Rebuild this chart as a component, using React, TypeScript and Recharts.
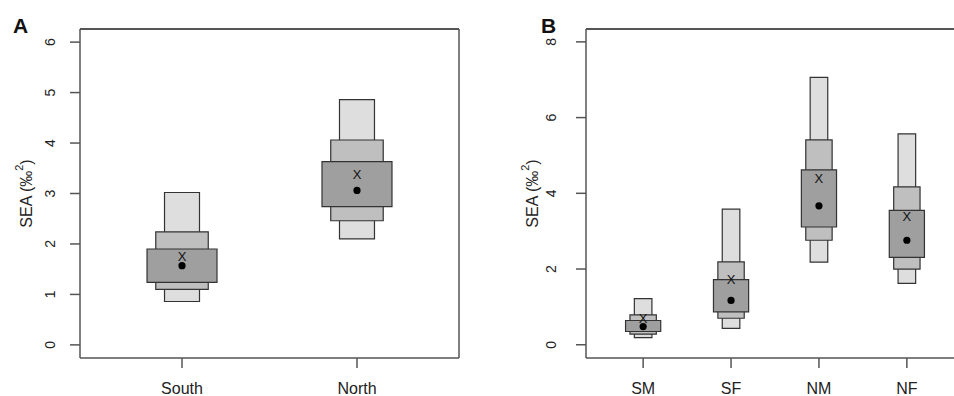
import React from 'react';
import { ComposedChart, XAxis, YAxis, ReferenceArea, Scatter } from 'recharts';

// Panel A data
const groupsA = ['South', 'North'];
const lo95A = [0.86, 2.1];
const hi95A = [3.02, 4.86];
const lo75A = [1.1, 2.46];
const hi75A = [2.24, 4.06];
const lo50A = [1.24, 2.74];
const hi50A = [1.9, 3.63];
const modeA = [1.57, 3.06];
const seaCA = [1.75, 3.38];
const yTicksA = [0, 1, 2, 3, 4, 5, 6];

// Panel B data
const groupsB = ['SM', 'SF', 'NM', 'NF'];
const lo95B = [0.19, 0.43, 2.18, 1.62];
const hi95B = [1.22, 3.58, 7.06, 5.57];
const lo75B = [0.28, 0.7, 2.76, 2.0];
const hi75B = [0.79, 2.19, 5.41, 4.17];
const lo50B = [0.35, 0.87, 3.11, 2.31];
const hi50B = [0.64, 1.72, 4.62, 3.55];
const modeB = [0.48, 1.17, 3.67, 2.76];
const seaCB = [0.7, 1.72, 4.39, 3.39];
const yTicksB = [0, 2, 4, 6, 8];

const FONT = '"Liberation Sans", Arial, sans-serif';
const AXIS = '#555';
const TXT = '#222';
const C95 = '#dedede';
const C75 = '#bfbfbf';
const C50 = '#9f9f9f';
const EDGE = '#333';

const levels = [
  { key: '95', hw: 0.1, fill: C95 },
  { key: '75', hw: 0.15, fill: C75 },
  { key: '50', hw: 0.2, fill: C50 },
];

function makeYTick(cx: number) {
  return (props: any) => {
    const { y, payload } = props;
    return (
      <text
        x={cx}
        y={y}
        transform={`rotate(-90 ${cx} ${y})`}
        textAnchor="middle"
        dominantBaseline="central"
        fontFamily={FONT}
        fontSize={14}
        fill={TXT}
      >
        {payload.value}
      </text>
    );
  };
}

function makeXTick(labels: string[], baseY: number) {
  return (props: any) => {
    const { x, payload } = props;
    return (
      <text x={x} y={baseY} textAnchor="middle" fontFamily={FONT} fontSize={16} fill={TXT}>
        {labels[payload.value - 1]}
      </text>
    );
  };
}

const dotShape = (p: any) => <circle cx={p.cx} cy={p.cy} r={3.6} fill="#000" />;
const xShape = (p: any) => (
  <text
    x={p.cx}
    y={p.cy}
    textAnchor="middle"
    dominantBaseline="central"
    fontFamily={FONT}
    fontSize={13}
    fill="#111"
  >
    X
  </text>
);

type PanelProps = {
  groups: string[];
  lo95: number[];
  hi95: number[];
  lo75: number[];
  hi75: number[];
  lo50: number[];
  hi50: number[];
  mode: number[];
  seaC: number[];
  yTicks: number[];
  xDomain: [number, number];
  yDomain: [number, number];
  width: number;
  yAxisWidth: number;
  marginRight: number;
  yTickCx: number;
};

function Panel(p: PanelProps) {
  const ranges: Record<string, [number[], number[]]> = {
    '95': [p.lo95, p.hi95],
    '75': [p.lo75, p.hi75],
    '50': [p.lo50, p.hi50],
  };
  const modeData = p.groups.map((g, i) => ({ x: i + 1, y: p.mode[i] }));
  const seaData = p.groups.map((g, i) => ({ x: i + 1, y: p.seaC[i] }));
  const xTicks = p.groups.map((g, i) => i + 1);
  return (
    <ComposedChart
      width={p.width}
      height={396}
      margin={{ top: 28, right: p.marginRight - 1, bottom: 0, left: 0 }}
    >
      <XAxis
        xAxisId="b"
        type="number"
        dataKey="x"
        domain={p.xDomain}
        ticks={xTicks}
        allowDataOverflow
        height={38}
        tickSize={10}
        stroke={AXIS}
        strokeWidth={1.5}
        tick={makeXTick(p.groups, 394)}
      />
      <XAxis
        xAxisId="t"
        orientation="top"
        type="number"
        domain={p.xDomain}
        allowDataOverflow
        height={1}
        ticks={[]}
        tick={false}
        tickLine={false}
        stroke={AXIS}
        strokeWidth={2}
      />
      <YAxis
        yAxisId="l"
        type="number"
        dataKey="y"
        domain={p.yDomain}
        ticks={p.yTicks}
        allowDataOverflow
        width={p.yAxisWidth}
        tickSize={10}
        stroke={AXIS}
        strokeWidth={1.5}
        tick={makeYTick(p.yTickCx)}
      />
      <YAxis
        yAxisId="r"
        orientation="right"
        type="number"
        domain={p.yDomain}
        allowDataOverflow
        width={1}
        ticks={[]}
        tick={false}
        tickLine={false}
        stroke={AXIS}
        strokeWidth={1.5}
      />
      {levels.map((lv) =>
        p.groups.map((g, i) => (
          <ReferenceArea
            key={`${lv.key}-${g}`}
            xAxisId="b"
            yAxisId="l"
            x1={i + 1 - lv.hw}
            x2={i + 1 + lv.hw}
            y1={ranges[lv.key][0][i]}
            y2={ranges[lv.key][1][i]}
            fill={lv.fill}
            fillOpacity={1}
            stroke={EDGE}
            strokeWidth={1.2}
            ifOverflow="visible"
          />
        ))
      )}
      <Scatter
        xAxisId="b"
        yAxisId="l"
        data={seaData}
        shape={xShape}
        isAnimationActive={false}
      />
      <Scatter
        xAxisId="b"
        yAxisId="l"
        data={modeData}
        shape={dotShape}
        isAnimationActive={false}
      />
    </ComposedChart>
  );
}

function YTitle({ cx, cy }: { cx: number; cy: number }) {
  return (
    <text
      x={cx}
      y={cy}
      transform={`rotate(-90 ${cx} ${cy})`}
      textAnchor="middle"
      dominantBaseline="central"
      fontFamily={FONT}
      fontSize={16}
      fill={TXT}
    >
      SEA (‰
      <tspan dy={-7} fontSize={11}>
        2
      </tspan>
      <tspan dy={7}>)</tspan>
    </text>
  );
}

export default function App() {
  return (
    <div
      style={{
        position: 'absolute',
        left: 0,
        top: 0,
        width: 954,
        height: 396,
        overflow: 'hidden',
        background: '#fff',
      }}
    >
      <svg
        width={954}
        height={396}
        style={{ position: 'absolute', left: 0, top: 0 }}
      >
        <text x={13} y={33} fontFamily={FONT} fontWeight="bold" fontSize={21} fill="#111">
          A
        </text>
        <text x={541} y={33} fontFamily={FONT} fontWeight="bold" fontSize={21} fill="#111">
          B
        </text>
        <YTitle cx={26} cy={193.5} />
        <YTitle cx={532} cy={193.5} />
      </svg>
      <div style={{ position: 'absolute', left: 480, top: 0, width: 494 }}>
        <Panel
          groups={groupsB}
          lo95={lo95B}
          hi95={hi95B}
          lo75={lo75B}
          hi75={hi75B}
          lo50={lo50B}
          hi50={hi50B}
          mode={modeB}
          seaC={seaCB}
          yTicks={yTicksB}
          xDomain={[0.35, 4.65]}
          yDomain={[-0.35, 8.34]}
          width={494}
          yAxisWidth={106}
          marginRight={10}
          yTickCx={71}
        />
      </div>
      <div style={{ position: 'absolute', left: 0, top: 0, width: 480 }}>
        <Panel
          groups={groupsA}
          lo95={lo95A}
          hi95={hi95A}
          lo75={lo75A}
          hi75={hi75A}
          lo50={lo50A}
          hi50={hi50A}
          mode={modeA}
          seaC={seaCA}
          yTicks={yTicksA}
          xDomain={[0.417, 2.583]}
          yDomain={[-0.26, 6.26]}
          width={480}
          yAxisWidth={80}
          marginRight={21}
          yTickCx={50}
        />
      </div>
    </div>
  );
}
